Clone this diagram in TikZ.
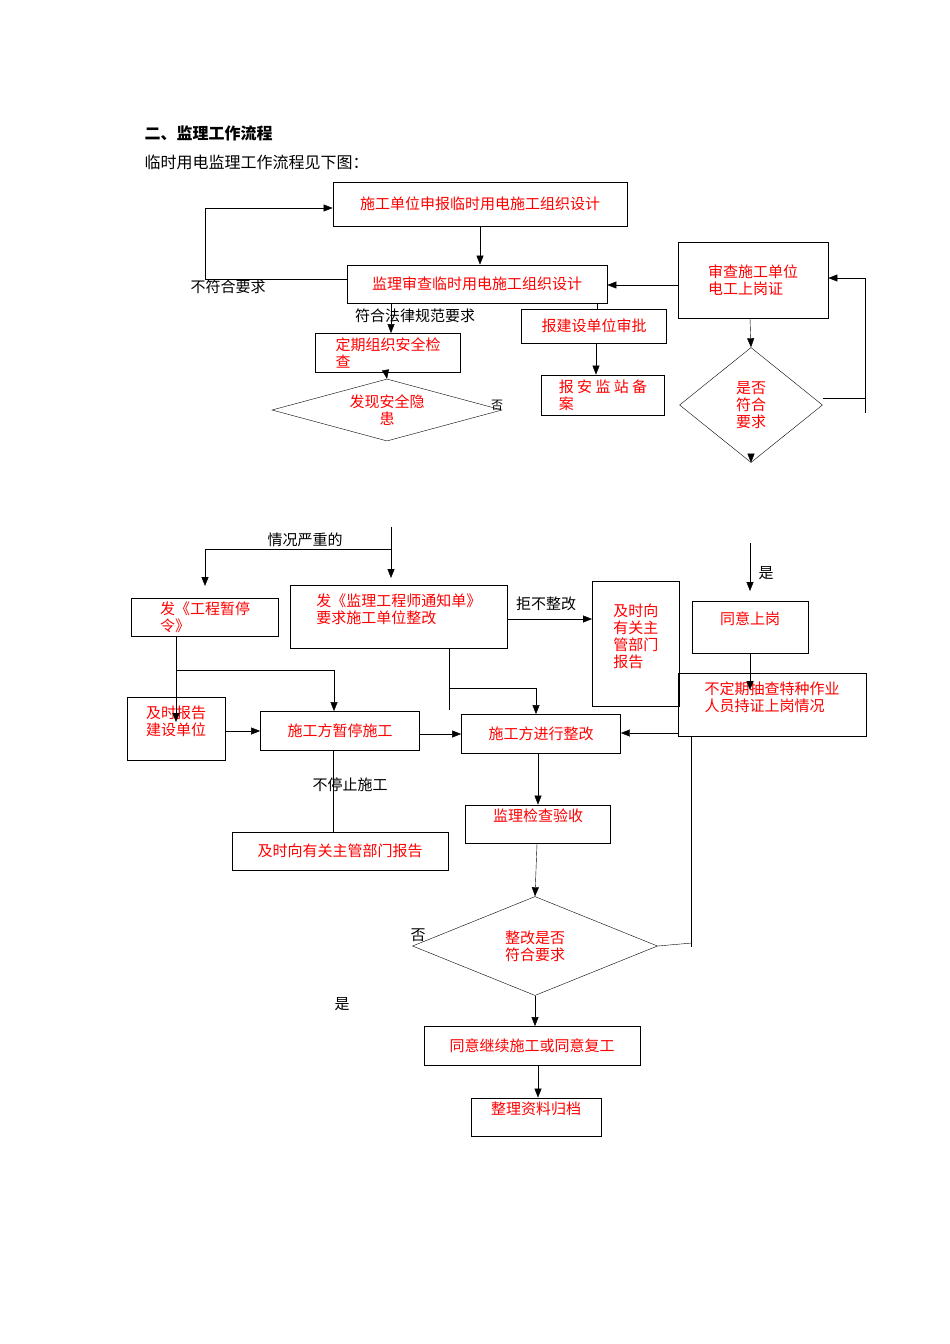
\documentclass[tikz,border=0pt]{standalone}
\usepackage{fontspec}
\setmainfont{Liberation Serif}
\newfontfamily\cjk{Noto Sans CJK SC}
\usetikzlibrary{arrows.meta,shapes.geometric}
\begin{document}
\begin{tikzpicture}[
      x=1pt,y=-1pt,
      font=\cjk\fontsize{15}{17}\selectfont,
      box/.style={draw,thick,rectangle,text=red,align=left,inner sep=2pt},
      dia/.style={draw,diamond,text=red,align=center,inner sep=0pt},
      lbl/.style={inner sep=1pt},
      arr/.style={-{Triangle[length=9pt,width=7pt]}},
      ]
    \useasboundingbox (0,0) rectangle (950,1344);
    \node[anchor=west,font=\cjk\bfseries\fontsize{16}{18}\selectfont] (h1) at (141,133) {二、监理工作流程};
    \node[anchor=west,font=\cjk\fontsize{16}{18}\selectfont] (h2) at (141,162) {临时用电监理工作流程见下图：};
    % upper part
    \node[box,minimum width=294,minimum height=44] (b1) at (480,204) {施工单位申报临时用电施工组织设计};
    \node[box,minimum width=260,minimum height=38] (b2) at (477,284) {监理审查临时用电施工组织设计};
    \node[box,minimum width=150,minimum height=76] (b3) at (753,280) {审查施工单位\\电工上岗证};
    \node[box,minimum width=145,minimum height=34] (b4) at (594,326) {报建设单位审批};
    \node[box,minimum width=145,minimum height=39] (b5) at (388,353) {定期组织安全检\\查};
    \node[box,minimum width=123,minimum height=40] (b6) at (603,395) {报 安 监 站 备\\案};
    \node[dia,minimum width=230,minimum height=62,aspect=3.7] (d1) at (387,410) {发现安全隐\\患};
    \node[dia,minimum width=143,minimum height=115,aspect=1.24] (d2) at (751,405) {是否\\符合\\要求};
    \draw[arr] (b1.south) -- (b2.north -| b1.south);
    \draw[arr] (b2.west |- 0,279) -- (205,279) |- (b1.west |- 0,208);
    \node[lbl] (t1) at (228,287) {不符合要求};
    \draw[arr] (b3.west |- 0,285) -- (b2.east |- 0,285);
    \draw[arr] (b2.south -| 391,0) -- (b5.north -| 391,0);
    \node[lbl] (t2) at (415,316) {符合法律规范要求};
    \draw (b2.south -| 597,0) -- (b4.north -| 597,0);
    \draw[arr] (b4.south -| 596,0) -- (b6.north -| 596,0);
    \draw[arr] (b5.south -| 386,0) -- (d1.north);
    \node[lbl,font=\cjk\fontsize{12}{14}\selectfont] (t3) at (497,405) {否};
    \draw[arr] (b3.south -| 750,0) -- (d2.north);
    \draw[arr] (d2.south) ++(0,-6) -- (d2.south);
    \coordinate (c1) at (865,398);
    \draw (d2.east |- c1) -- (c1) -- (865,413);
    \draw[arr] (c1) -- (865,278) -- (b3.east |- 0,278);
    % middle part
    \coordinate (c2) at (391,527);
    \coordinate (c3) at (391,549);
    \draw[arr] (c2) -- (391,578);
    \draw[arr] (c3) -- (205,549) -- (205,586);
    \node[lbl] (t4) at (305,540) {情况严重的};
    \node[box,minimum width=147,minimum height=38] (b7) at (205,617) {发《工程暂停\\令》};
    \node[box,minimum width=217,minimum height=63,anchor=north west] (b8) at (290,585) {发《监理工程师通知单》\\要求施工单位整改\\~};
    \node[box,minimum width=87,minimum height=125,anchor=north west] (b9) at (592,581) {及时向\\有关主\\管部门\\报告\\~};
    \draw[arr] (b8.east |- 0,619) -- (b9.west |- 0,619);
    \node[lbl] (t5) at (546,604) {拒不整改};
    \coordinate (c4) at (750,543);
    \draw[arr] (c4) -- (750,591);
    \node[lbl] (t6) at (766,573) {是};
    \node[box,minimum width=116,minimum height=52] (b10) at (750,627) {同意上岗\\~};
    \node[box,minimum width=188,minimum height=63] (b11) at (772,705) {不定期抽查特种作业\\人员持证上岗情况\\~};
    \draw[arr] (b10.south) -- (750,690);
    \node[box,minimum width=98,minimum height=63] (b12) at (176,729) {及时报告\\建设单位\\~};
    \node[box,minimum width=159,minimum height=39] (b13) at (340,731) {施工方暂停施工};
    \node[box,minimum width=159,minimum height=39] (b14) at (541,734) {施工方进行整改};
    \draw[arr] (b7.south -| 176,0) -- (176,722);
    \draw[arr] (176,670) -- (334,670) -- (b13.north -| 334,0);
    \draw[arr] (b12.east |- 0,731) -- (b13.west |- 0,731);
    \draw[arr] (b13.east |- 0,734) -- (b14.west |- 0,734);
    \draw (b8.south -| 449,0) -- (449,710);
    \draw[arr] (449,688) -- (536,688) -- (b14.north -| 536,0);
    \draw[arr] (b11.west |- 0,733) -- (b14.east |- 0,733);
    % lower part
    \node[box,minimum width=216,minimum height=38] (b15) at (340,851) {及时向有关主管部门报告};
    \node[box,minimum width=145,minimum height=38] (b16) at (538,824) {监理检查验收\\~};
    \draw (b13.south -| 333,0) -- (b15.north -| 333,0);
    \node[lbl] (t7) at (350,785) {不停止施工};
    \draw[arr] (b14.south -| 538,0) -- (b16.north -| 538,0);
    \node[dia,minimum width=245,minimum height=99,aspect=2.47] (d3) at (535,946) {整改是否\\符合要求};
    \draw[arr] (b16.south -| 537,0) -- (d3.north);
    \draw (b11.south -| 691,0) -- (691,947);
    \draw (d3.east) -- (692,943);
    \node[lbl] (t8) at (418,935) {否};
    \node[lbl] (t9) at (342,1004) {是};
    \node[box,minimum width=216,minimum height=39] (b17) at (532,1046) {同意继续施工或同意复工};
    \node[box,minimum width=130,minimum height=38] (b18) at (536,1117) {整理资料归档\\~};
    \draw[arr] (d3.south) -- (b17.north -| d3.south);
    \draw[arr] (b17.south -| 538,0) -- (b18.north -| 538,0);
\end{tikzpicture}
\end{document}
